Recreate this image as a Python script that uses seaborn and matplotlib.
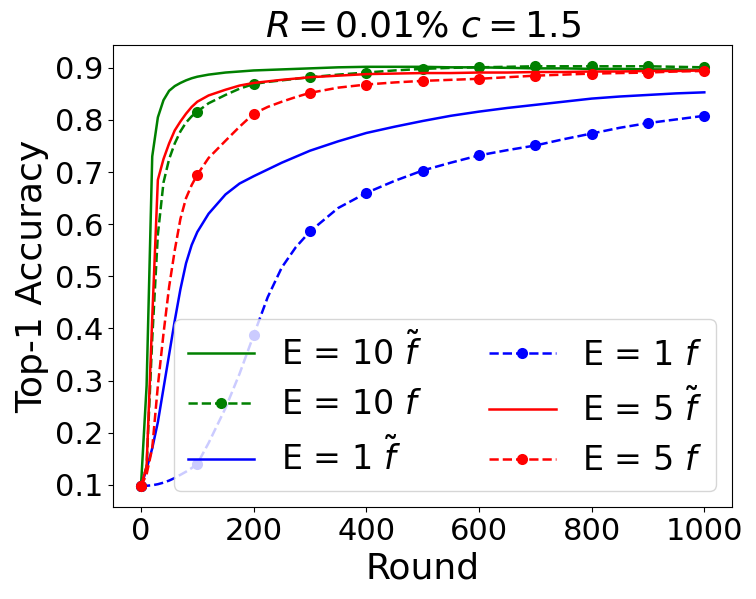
#Top-1 accuracy vs. round for several local epoch settings.
import matplotlib
matplotlib.use('Agg')
import matplotlib.pyplot as plt
import numpy as np
import seaborn as sns

# solid curves (f tilde), sampled rounds
rounds_solid = [0, 10, 20, 30, 40, 50, 60, 70, 80, 90, 100, 120, 150, 175, 200, 250, 300, 350,
                400, 450, 500, 550, 600, 650, 700, 750, 800, 850, 900, 950, 1000]
e10_tilde = [0.097, 0.29, 0.73, 0.805, 0.838, 0.856, 0.865, 0.871, 0.876, 0.880, 0.883, 0.887, 0.891,
             0.893, 0.895, 0.897, 0.899, 0.901, 0.902, 0.902, 0.902, 0.901, 0.901, 0.900, 0.899, 0.899,
             0.898, 0.898, 0.897, 0.897, 0.896]
e1_tilde = [0.097, 0.13, 0.17, 0.22, 0.285, 0.35, 0.415, 0.475, 0.525, 0.56, 0.585, 0.62, 0.657,
            0.678, 0.692, 0.718, 0.741, 0.759, 0.775, 0.787, 0.798, 0.808, 0.816, 0.823, 0.829, 0.835,
            0.841, 0.845, 0.848, 0.851, 0.853]
e5_tilde = [0.097, 0.135, 0.42, 0.685, 0.725, 0.755, 0.78, 0.797, 0.812, 0.825, 0.835, 0.847, 0.858,
            0.866, 0.871, 0.877, 0.882, 0.885, 0.888, 0.889, 0.890, 0.890, 0.891, 0.891, 0.892, 0.892,
            0.893, 0.893, 0.894, 0.894, 0.895]

# dashed curves (f), markers every 100 rounds
rounds_dash = [0, 10, 20, 30, 40, 50, 60, 70, 80, 90, 100, 120, 150, 175, 200, 225, 250, 275, 300,
               350, 400, 450, 500, 550, 600, 650, 700, 750, 800, 850, 900, 950, 1000]
e10_f = [0.097, 0.135, 0.38, 0.58, 0.68, 0.725, 0.755, 0.778, 0.795, 0.807, 0.816, 0.832, 0.848,
         0.860, 0.869, 0.873, 0.876, 0.879, 0.882, 0.887, 0.891, 0.895, 0.898, 0.900, 0.901, 0.902,
         0.903, 0.903, 0.903, 0.903, 0.903, 0.902, 0.901]
e1_f = [0.097, 0.098, 0.099, 0.101, 0.104, 0.108, 0.113, 0.119, 0.125, 0.132, 0.140, 0.18, 0.247,
        0.313, 0.387, 0.46, 0.517, 0.556, 0.586, 0.631, 0.660, 0.683, 0.703, 0.718, 0.732, 0.742,
        0.751, 0.763, 0.774, 0.785, 0.794, 0.801, 0.808]
e5_f = [0.097, 0.12, 0.17, 0.29, 0.39, 0.48, 0.55, 0.61, 0.65, 0.675, 0.695, 0.727, 0.76, 0.787,
        0.812, 0.825, 0.835, 0.844, 0.852, 0.862, 0.868, 0.872, 0.875, 0.877, 0.879, 0.882, 0.885,
        0.887, 0.889, 0.890, 0.891, 0.893, 0.894]

series = [
    (rounds_solid, e10_tilde, 'green', '-', r'E = 10 $\tilde{f}$'),
    (rounds_dash, e10_f, 'green', '--', r'E = 10 $f$'),
    (rounds_solid, e1_tilde, 'blue', '-', r'E = 1 $\tilde{f}$'),
    (rounds_dash, e1_f, 'blue', '--', r'E = 1 $f$'),
    (rounds_solid, e5_tilde, 'red', '-', r'E = 5 $\tilde{f}$'),
    (rounds_dash, e5_f, 'red', '--', r'E = 5 $f$'),
]

fig = plt.figure(figsize=(7.56, 5.99), dpi=100)
ax = fig.add_axes([0.1492, 0.1531, 0.8197, 0.7713])

for x, y, color, ls, label in series:
    x = np.array(x)
    if ls == '--':
        marks = list(np.where(x % 100 == 0)[0])
        sns.lineplot(x=x, y=y, ax=ax, color=color, linestyle=ls, linewidth=1.8,
                     marker='o', markersize=8, markeredgewidth=0, markevery=marks, label=label)
    else:
        sns.lineplot(x=x, y=y, ax=ax, color=color, linestyle=ls, linewidth=1.8, label=label)

ax.set_title(r'$R = 0.01\%$ $c = 1.5$', fontsize=26)
ax.set_xlabel('Round', fontsize=26)
ax.set_ylabel('Top-1 Accuracy', fontsize=26)
ax.set_yticks([0.1, 0.2, 0.3, 0.4, 0.5, 0.6, 0.7, 0.8, 0.9])
ax.tick_params(labelsize=22)
ax.legend(ncol=2, loc='lower right', fontsize=24)

fig.savefig('out.png', dpi=100)
